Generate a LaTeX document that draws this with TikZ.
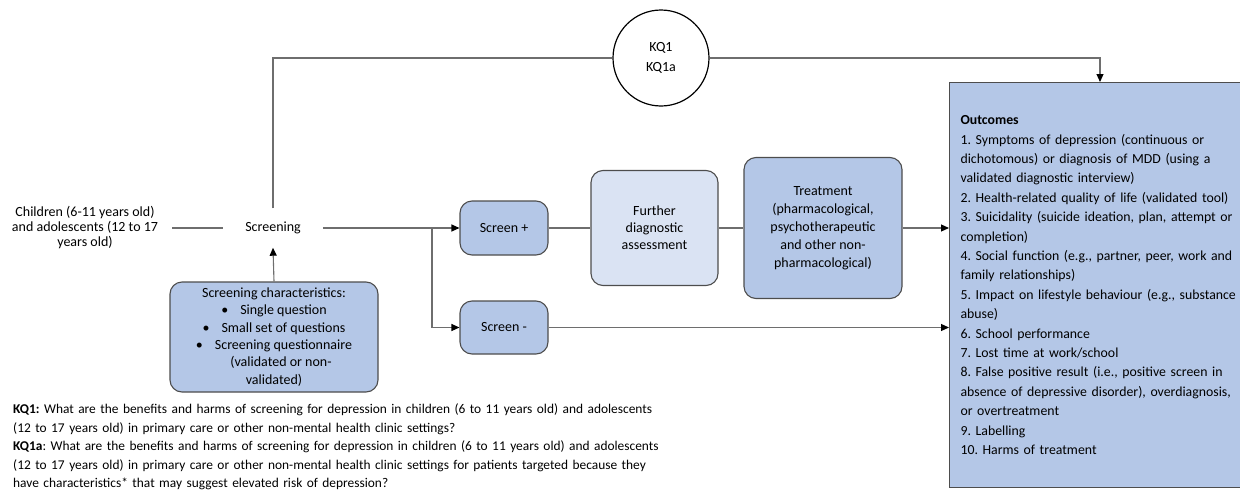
\documentclass[tikz,border=0pt]{standalone}
\usepackage{fontspec}
\setmainfont{Carlito}
\frenchspacing
\usetikzlibrary{arrows.meta,calc}
\definecolor{boxblue}{HTML}{B4C7E7}
\definecolor{boxlight}{HTML}{DAE3F3}
\definecolor{edgegray}{HTML}{4D4D4D}
\definecolor{linegray}{HTML}{6E6E6E}
\begin{document}
\begin{tikzpicture}[x=1pt,y=-1pt,
  font=\fontsize{14}{17}\selectfont,
  flowbox/.style={draw=edgegray, line width=1.1pt, rounded corners=12pt, fill=boxblue, align=center, inner sep=0pt},
  conn/.style={draw=linegray, line width=1.1pt},
  arr/.style={conn, -{Triangle[length=8pt,width=7pt,color=black]}}]
\useasboundingbox (0,0) rectangle (1240,490);

% nodes
\node[align=center, inner xsep=14pt, font=\fontsize{14}{15}\selectfont] (children) at (85,228)
  {Children (6-11 years old)\\and adolescents (12 to 17\\years old)};
\node[inner xsep=22pt, minimum height=39pt] (screening) at (273,228) {Screening};
\node[flowbox, minimum width=208pt, minimum height=110pt, font=\fontsize{14}{17.3}\selectfont] (chars) at (274,337)
  {Screening characteristics:\\
   \textbullet\hspace{12pt}Single question\\
   \textbullet\hspace{12pt}Small set of questions\\
   \textbullet\hspace{12pt}Screening questionnaire\\
   \hspace{14pt}(validated or non-\\
   validated)};
\node[flowbox, minimum width=88pt, minimum height=54pt] (splus) at (504,228) {Screen +};
\node[flowbox, minimum width=88pt, minimum height=53pt] (sminus) at (504,327.5) {Screen -};
\node[flowbox, fill=boxlight, minimum width=127pt, minimum height=115pt] (further) at (654.5,228)
  {Further\\diagnostic\\assessment};
\node[flowbox, minimum width=158pt, minimum height=141pt, font=\fontsize{14}{18}\selectfont] (treatment) at (823,228)
  {Treatment\\(pharmacological,\\psychotherapeutic\\and other non-\\pharmacological)};
\node[draw=edgegray, line width=1.1pt, fill=boxblue, anchor=north west,
      minimum height=405pt, text width=300pt, inner xsep=11pt, align=left,
      font=\fontsize{13.8}{19.4}\selectfont] (outcomes) at (949,82)
  {\textbf{Outcomes}\\
   1. Symptoms of depression (continuous or\\
   dichotomous) or diagnosis of MDD (using a\\
   validated diagnostic interview)\\
   2. Health-related quality of life (validated tool)\\
   3. Suicidality (suicide ideation, plan, attempt or\\
   completion)\\
   4. Social function (e.g., partner, peer, work and\\
   family relationships)\\
   5. Impact on lifestyle behaviour (e.g., substance\\
   abuse)\\
   6. School performance\\
   7. Lost time at work/school\\
   8. False positive result (i.e., positive screen in\\
   absence of depressive disorder), overdiagnosis,\\
   or overtreatment\\
   9. Labelling\\
   10. Harms of treatment};
\node[circle, draw=black, line width=1.2pt, minimum size=96pt, inner sep=0pt, fill=white,
      align=center, font=\fontsize{14}{20}\selectfont] (kq) at (661,58) {KQ1\\KQ1a};
\node[anchor=north west, inner sep=0pt, align=left, text width=1200pt,
      font=\fontsize{13.4}{18.5}\selectfont] (questions) at (13,403.5)
  {\textbf{KQ1:} What are the benefits and harms of screening for depression in children (6 to 11 years old) and adolescents\\
   (12 to 17 years old) in primary care or other non-mental health clinic settings?\\
   \textbf{KQ1a}: What are the benefits and harms of screening for depression in children (6 to 11 years old) and adolescents\\
   (12 to 17 years old) in primary care or other non-mental health clinic settings for patients targeted because they\\
   have characteristics* that may suggest elevated risk of depression?};

% connectors
\coordinate (kqdrop) at (1100,58);
\coordinate (branch) at (432,228);
\draw[conn] (children.east) -- (screening.west);
\draw[conn] (screening.north) |- (kq.west);
\draw[arr] (kq.east) -- (kqdrop) -- (kqdrop |- outcomes.north);
\draw[arr] (chars.north) -- (screening.south);
\draw[conn] (screening.east) -- (branch);
\draw[arr] (branch) -- (splus.west);
\draw[arr] (branch) |- (sminus.west);
\draw[conn] (splus.east) -- (further.west);
\draw[conn] (further.east) -- (treatment.west);
\draw[arr] (treatment.east) -- (treatment.east -| outcomes.west);
\draw[arr] (sminus.east) -- (sminus.east -| outcomes.west);
\end{tikzpicture}
\end{document}
